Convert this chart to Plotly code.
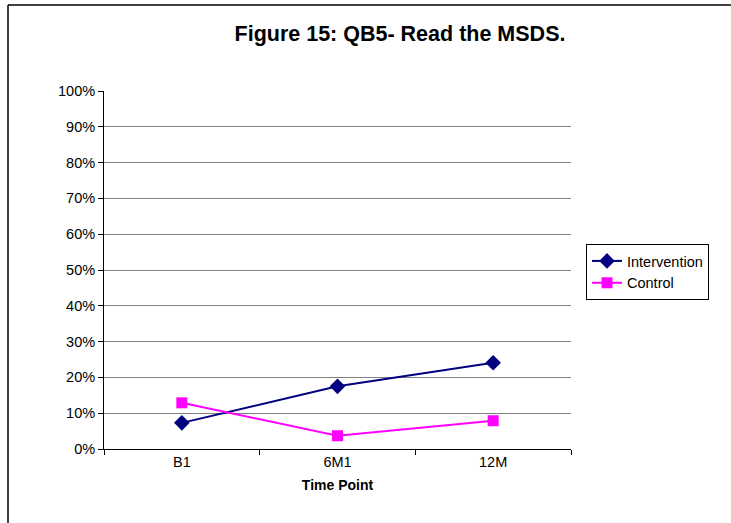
import plotly.graph_objects as go

categories = ["B1", "6M1", "12M"]
intervention = [0.073, 0.175, 0.241]
control = [0.129, 0.037, 0.079]
y_ticks = [0, 0.1, 0.2, 0.3, 0.4, 0.5, 0.6, 0.7, 0.8, 0.9, 1.0]
y_tick_labels = ["0%", "10%", "20%", "30%", "40%", "50%", "60%", "70%", "80%", "90%", "100%"]

fig = go.Figure()
fig.add_trace(go.Scatter(
    x=categories, y=intervention, name="Intervention", mode="lines+markers",
    line=dict(color="#000080", width=2),
    marker=dict(symbol="diamond", size=12, color="#000080"),
))
fig.add_trace(go.Scatter(
    x=categories, y=control, name="Control", mode="lines+markers",
    line=dict(color="#FF00FF", width=2),
    marker=dict(symbol="square", size=11, color="#FF00FF"),
))

fig.update_layout(
    width=731, height=523,
    margin=dict(l=104, r=160, t=91, b=74, autoexpand=False),
    paper_bgcolor="white", plot_bgcolor="white",
    font=dict(family="Arial, Liberation Sans, sans-serif", size=14, color="black"),
    title=dict(text="<b>Figure 15: QB5- Read the MSDS.</b>", x=400/731, xanchor="center",
               xref="container", y=1-33/523, yanchor="middle", yref="container",
               font=dict(size=21.5)),
    showlegend=True,
    legend=dict(x=586/731, xref="container", xanchor="left", y=(523-244)/523, yref="container",
                yanchor="top", bgcolor="white", bordercolor="black", borderwidth=1,
                font=dict(size=14.5), tracegroupgap=0),
    xaxis=dict(type="category", range=[-0.5, 2.5], showgrid=False,
               showline=True, linecolor="black", linewidth=1,
               ticks="outside", tickson="boundaries", ticklen=5, tickcolor="black",
               tickfont=dict(size=14.5),
               title=dict(text="<b>Time Point</b>", font=dict(size=14), standoff=10),
               zeroline=False),
    yaxis=dict(range=[0, 1], tickvals=y_ticks, ticktext=y_tick_labels,
               showgrid=True, gridcolor="#808080", gridwidth=1,
               showline=True, linecolor="black", linewidth=1,
               ticks="outside", ticklen=5, tickcolor="black",
               tickfont=dict(size=14.5), zeroline=False),
)

# outer chart border (only left and top edges fall within the picture)
fig.add_shape(type="line", xref="paper", yref="paper",
              x0=-96/467, x1=-96/467, y0=-(530-449)/358, y1=(449-5)/358,
              line=dict(color="black", width=1.5), layer="below")
fig.add_shape(type="line", xref="paper", yref="paper",
              x0=-96/467, x1=(740-104)/467, y0=(449-5)/358, y1=(449-5)/358,
              line=dict(color="black", width=1.5), layer="below")

fig.write_html("out.html")
